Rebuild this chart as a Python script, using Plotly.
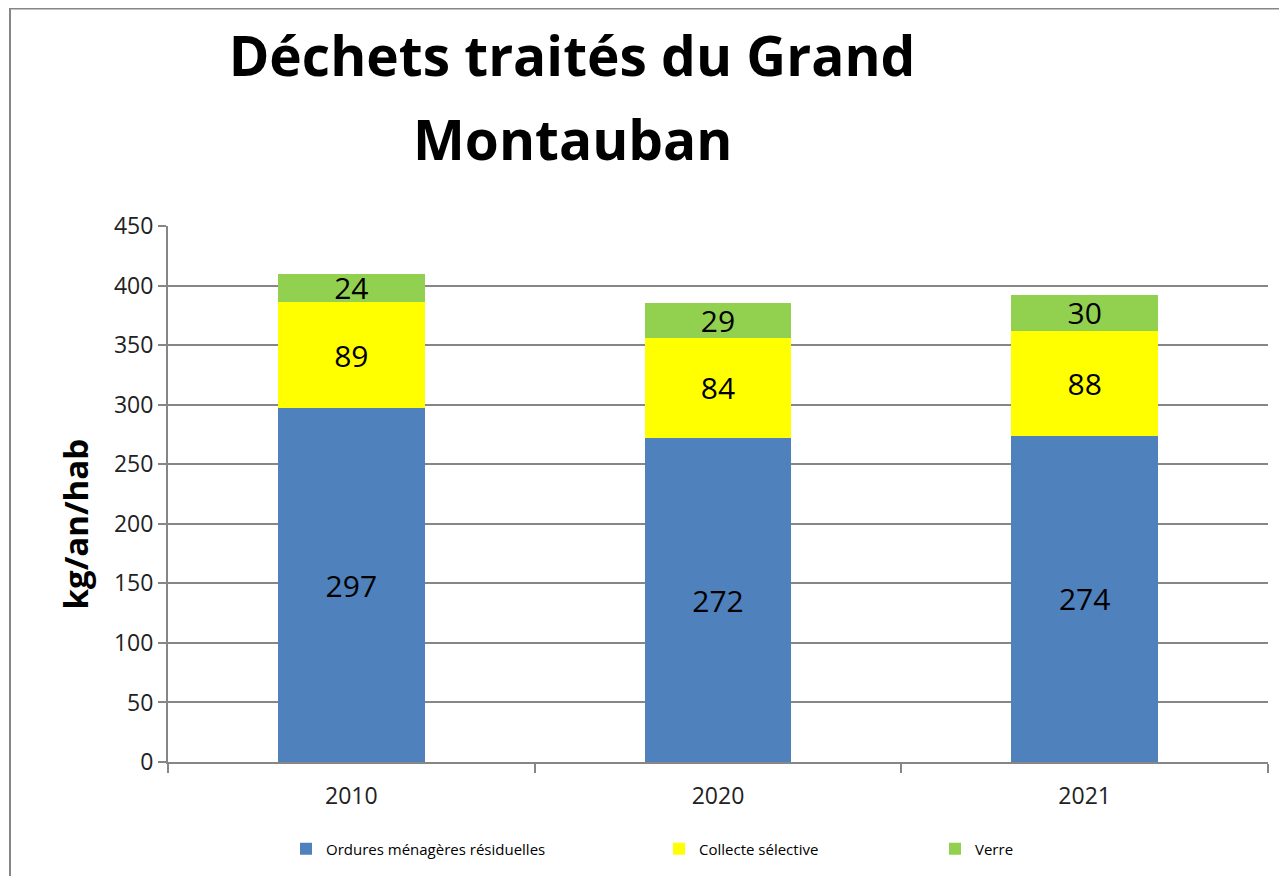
import plotly.graph_objects as go

years = ["2010", "2020", "2021"]
omr = [297, 272, 274]
collecte = [89, 84, 88]
verre = [24, 29, 30]

series_names = ["Ordures ménagères résiduelles", "Collecte sélective", "Verre"]
series_values = [omr, collecte, verre]
colors = ["#4F81BD", "#FFFF00", "#92D050"]
legend_ids = ["legend", "legend2", "legend3"]

OFF = 8  # page body margin
W, H = 1287 - OFF, 876 - OFF
# reference pixel coordinates of the plot area
PL, PR, PT, PB = 168, 1268, 226, 763
L, T = PL - OFF, PT - OFF
R, B = W - (PR - OFF), H - (PB - OFF)
pw, ph = PR - PL, PB - PT

def px_x(px):
    return (px - PL) / pw

def px_y(py):
    return (PB - py) / ph

fig = go.Figure()
for name, vals, col, lg in zip(series_names, series_values, colors, legend_ids):
    fig.add_trace(go.Bar(
        x=years, y=vals, name=name, marker=dict(color=col, line=dict(width=0)),
        text=[str(v) for v in vals], textposition="inside", insidetextanchor="middle",
        constraintext="none", textangle=0,
        textfont=dict(family="Open Sans", size=30, color="#000000"),
        width=0.4, legend=lg,
    ))

legend_x_px = [286, 659, 935]
leg_common = dict(orientation="h", yanchor="middle", xanchor="left",
                  bgcolor="rgba(0,0,0,0)", font=dict(family="Open Sans", size=15, color="#000"))

fig.update_layout(
    width=W, height=H,
    barmode="stack",
    plot_bgcolor="white", paper_bgcolor="white",
    margin=dict(l=L, r=R, t=T, b=B),
    title=dict(text="<b>Déchets traités du Grand</b>", x=(572 - OFF) / W, xanchor="center",
               y=1 - (57 - OFF) / H, yanchor="middle", yref="container",
               font=dict(family="Open Sans", size=55, color="#000")),
    legend=dict(x=px_x(legend_x_px[0]), y=px_y(849), **leg_common),
    legend2=dict(x=px_x(legend_x_px[1]), y=px_y(849), **leg_common),
    legend3=dict(x=px_x(legend_x_px[2]), y=px_y(849), **leg_common),
    xaxis=dict(showline=True, linecolor="#868686", linewidth=2,
               ticks="outside", tickson="boundaries", ticklen=9, tickcolor="#868686", tickwidth=2,
               ticklabelstandoff=12,
               tickfont=dict(family="Open Sans", size=23, color="#222"), showgrid=False),
    yaxis=dict(range=[0, 450], dtick=50, showline=True, linecolor="#868686", linewidth=2,
               ticks="outside", ticklen=8, tickcolor="#868686", tickwidth=2,
               showgrid=True, gridcolor="#868686", gridwidth=2, zeroline=False,
               tickfont=dict(family="Open Sans", size=23, color="#222")),
    showlegend=True,
)

fig.add_annotation(text="<b>Montauban</b>", xref="paper", yref="paper",
                   x=px_x(572), y=px_y(138), xanchor="center", yanchor="middle",
                   showarrow=False, font=dict(family="Open Sans", size=55, color="#000"))

fig.add_annotation(text="<b>kg/an/hab</b>", xref="paper", yref="paper",
                   x=px_x(75), y=px_y(525), xanchor="center", yanchor="middle",
                   textangle=-90, showarrow=False,
                   font=dict(family="Open Sans", size=33, color="#000"))

fig.add_shape(type="rect", xref="paper", yref="paper",
              x0=px_x(10), x1=px_x(1300), y0=px_y(900), y1=px_y(8),
              line=dict(color="#868686", width=2), fillcolor="rgba(0,0,0,0)", layer="below")

fig.write_html("out.html")
